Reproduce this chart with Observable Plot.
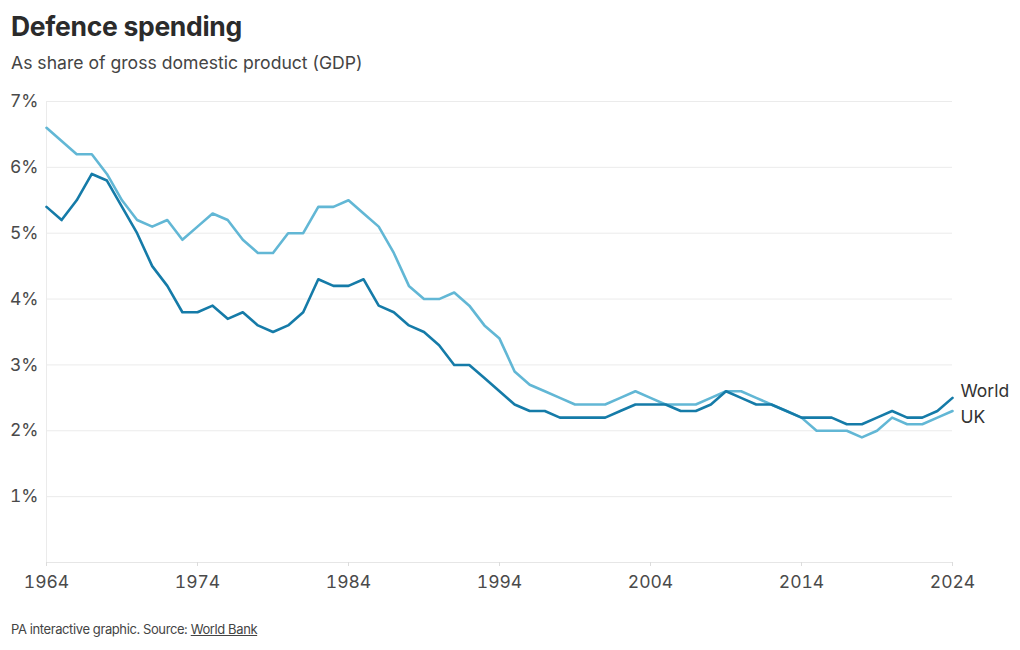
<!DOCTYPE html>
<html>
<head>
<meta charset="utf-8">
<script src="https://cdn.jsdelivr.net/npm/d3@7"></script>
<script src="https://cdn.jsdelivr.net/npm/@observablehq/plot@0.6"></script>
<style>
  body { margin: 0; background: #fff; font-family: Inter, "Noto Sans", sans-serif; color: #333; }
  #wrap { position: relative; width: 1020px; height: 650px; }
  #title { position: absolute; left: 11px; top: 10px; font-size: 26.5px; font-weight: 700; color: #2b2b2b; letter-spacing: -0.3px; }
  #subtitle { position: absolute; left: 11px; top: 52px; font-size: 17.6px; color: #444; }
  #chart { position: absolute; left: 0; top: 88px; }
  #footer { position: absolute; left: 11px; top: 621px; font-size: 13px; color: #444; letter-spacing: -0.4px; }
  #footer u { text-decoration: underline; }
</style>
</head>
<body>
<div id="wrap">
  <div id="title">Defence spending</div>
  <div id="subtitle">As share of gross domestic product (GDP)</div>
  <div id="chart"></div>
  <div id="footer">PA interactive graphic. Source: <u>World Bank</u></div>
</div>
<script>
const years = d3.range(1964, 2025);
const world = [5.4,5.2,5.5,5.9,5.8,5.4,5.0,4.5,4.2,3.8,3.8,3.9,3.7,3.8,3.6,3.5,3.6,3.8,4.3,4.2,4.2,4.3,3.9,3.8,3.6,3.5,3.3,3.0,3.0,2.8,2.6,2.4,2.3,2.3,2.2,2.2,2.2,2.2,2.3,2.4,2.4,2.4,2.3,2.3,2.4,2.6,2.5,2.4,2.4,2.3,2.2,2.2,2.2,2.1,2.1,2.2,2.3,2.2,2.2,2.3,2.5];
const uk = [6.6,6.4,6.2,6.2,5.9,5.5,5.2,5.1,5.2,4.9,5.1,5.3,5.2,4.9,4.7,4.7,5.0,5.0,5.4,5.4,5.5,5.3,5.1,4.7,4.2,4.0,4.0,4.1,3.9,3.6,3.4,2.9,2.7,2.6,2.5,2.4,2.4,2.4,2.5,2.6,2.5,2.4,2.4,2.4,2.5,2.6,2.6,2.5,2.4,2.3,2.2,2.0,2.0,2.0,1.9,2.0,2.2,2.1,2.1,2.2,2.3];
const yTicks = [1,2,3,4,5,6,7];
const xTicks = [1964,1974,1984,1994,2004,2014,2024];
const seriesNames = ["World","UK"];
const seriesColors = ["#157ba8","#62b7d5"];

const worldData = years.map((y,i) => ({year: y, value: world[i], series: "World"}));
const ukData = years.map((y,i) => ({year: y, value: uk[i], series: "UK"}));

const chart = Plot.plot({
  width: 1020,
  height: 512,
  marginTop: 13,
  marginBottom: 38,
  marginLeft: 46,
  marginRight: 68,
  style: {fontFamily: "Inter, 'Noto Sans', sans-serif", fontSize: "17px", color: "#444", background: "#fff"},
  x: {domain: [1964, 2024], label: null},
  y: {domain: [0, 7], label: null},
  marks: [
    Plot.gridY(yTicks, {stroke: "#ebebeb", strokeOpacity: 1}),
    Plot.ruleY([0], {stroke: "#e6e6e6"}),
    Plot.ruleX([1964], {stroke: "#ebebeb"}),
    Plot.axisX({ticks: xTicks, tickFormat: d => String(d), stroke: "#dcdcdc", tickSize: 4, tickPadding: 9, fontSize: 17.5, fill: "#4a4a4a"}),
    Plot.axisY({ticks: yTicks, tickFormat: d => d + "%", tickSize: 0, tickPadding: 8, fontSize: 17.5, fill: "#4a4a4a"}),
    Plot.line(ukData, {x: "year", y: "value", stroke: seriesColors[1], strokeWidth: 2.6}),
    Plot.line(worldData, {x: "year", y: "value", stroke: seriesColors[0], strokeWidth: 2.6}),
    Plot.text(worldData.slice(-1), {x: "year", y: "value", text: "series", textAnchor: "start", dx: 8, dy: -6, fill: "#333", fontSize: 17.5}),
    Plot.text(ukData.slice(-1), {x: "year", y: "value", text: "series", textAnchor: "start", dx: 8, dy: 6, fill: "#333", fontSize: 17.5})
  ]
});
document.getElementById("chart").appendChild(chart);
</script>
</body>
</html>
